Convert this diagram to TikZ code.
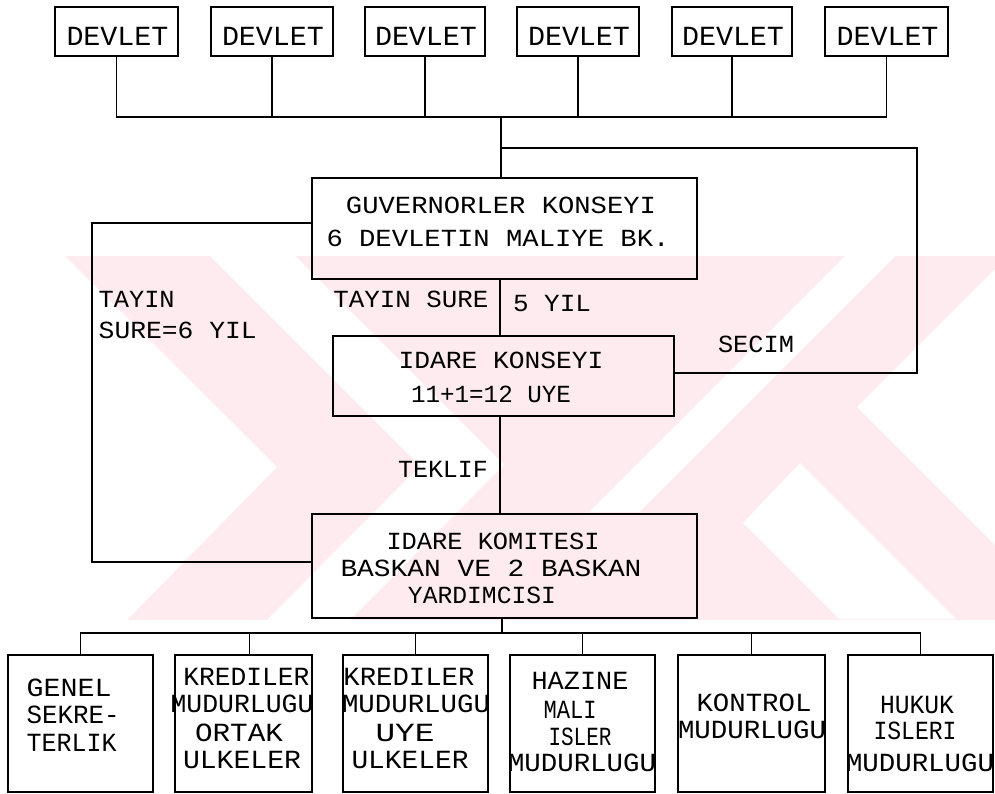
\documentclass[tikz,border=0pt]{standalone}
\usepackage{fontspec}
\setmainfont{Liberation Mono}
\definecolor{wm}{RGB}{253,235,239}
\newcommand\wt[2]{\resizebox{#1pt}{\height}{#2}}
\begin{document}
\begin{tikzpicture}[x=1pt,y=-1pt,
  box/.style={draw,line width=1.3pt,inner sep=0pt},
  lbl/.style={inner sep=0pt},
  ln/.style={line width=1.3pt},
  fa/.style={font=\fontsize{27.7}{27.7}\selectfont},
  fb/.style={font=\fontsize{24.6}{24.6}\selectfont},
  fc/.style={font=\fontsize{26.2}{26.2}\selectfont}]
\useasboundingbox (0,0) rectangle (995,794);
% watermark
\fill[wm] (65,256) rectangle (995,620);
\fill[white] (65,256) -- (277,467) -- (127,620) -- (65,620) -- cycle;
\fill[white] (210,256) -- (295,256) -- (504,465) -- (350,620) -- (267,620) -- (420,466) -- cycle;
\fill[white] (845,256) -- (895,256) -- (639,512) -- (589,512) -- cycle;
\fill[white] (800,463) -- (956,619) -- (839,619) -- (743,523) -- cycle;
\fill[white] (857,407) -- (995,269) -- (995,545) -- cycle;
% top row
\foreach \i/\x/\w in {1/116.5/123, 2/272/122, 3/425/120, 4/578/122, 5/732/120, 6/886.5/123} {
  \node[box, minimum width=\w, minimum height=49] (d\i) at (\x,31.5) {};
  \node[lbl, fa] (dt\i) at (\x+1,36) {\wt{102}{DEVLET}};
}
\coordinate (bus) at (0,117);
\coordinate (j) at (501,117);
\draw[ln] (d1.south) -- (d1.south |- bus) -- (d6.south |- bus) -- (d6.south);
\foreach \i in {2,3,4,5} \draw[ln] (d\i.south) -- (d\i.south |- bus);
% main boxes
\node[box, minimum width=385, minimum height=101] (gk) at (504.5,228.5) {};
\node[lbl, fb] (gt1) at (501,205) {\wt{310}{GUVERNORLER KONSEYI}};
\node[lbl, fb] (gt2) at (498,238) {\wt{343}{6 DEVLETIN MALIYE BK.}};
\node[box, minimum width=341, minimum height=80] (ik) at (503.5,376) {};
\node[lbl, fb] (it1) at (501,360) {\wt{205}{IDARE KONSEYI}};
\node[lbl, fb] (it2) at (491,394) {\wt{160}{11+1=12 UYE}};
\node[box, minimum width=385, minimum height=104] (kk) at (504.5,566) {};
\node[lbl, fb] (kt1) at (493,541) {\wt{213}{IDARE KOMITESI}};
\node[lbl, fb] (kt2) at (491,568) {\wt{301}{BASKAN VE 2 BASKAN}};
\node[lbl, fb] (kt3) at (482,595) {\wt{148}{YARDIMCISI}};
% labels
\node[lbl, fb, anchor=west] (la1) at (98.5,299) {\wt{76}{TAYIN}};
\node[lbl, fb, anchor=west] (la2) at (98.5,330) {\wt{158}{SURE=6 YIL}};
\node[lbl, fb] (la3) at (411,299) {\wt{155}{TAYIN SURE}};
\node[lbl, fb] (la4) at (552,304) {\wt{78}{5 YIL}};
\node[lbl, fb] (la5) at (756,344) {\wt{76}{SECIM}};
\node[lbl, fb] (la6) at (443,469) {\wt{90}{TEKLIF}};
% connectors
\draw[ln] (j) -- (j |- gk.north);
\coordinate (s1) at (501,148);
\coordinate (s2) at (917,373);
\draw[ln] (s1) -| (s2) -- (s2 -| ik.east);
\coordinate (l1) at (92,223);
\coordinate (l2) at (92,562);
\draw[ln] (l1 -| gk.west) -- (l1) -- (l2) -- (l2 -| kk.west);
\coordinate (c) at (500,0);
\draw[ln] (c |- gk.south) -- (c |- ik.north);
\draw[ln] (c |- ik.south) -- (c |- kk.north);
% bottom boxes
\foreach \i/\x/\w in {1/80.5/145, 2/243.5/137, 3/415.5/145, 4/582.5/145, 5/751.5/147, 6/920.5/145} {
  \node[box, minimum width=\w, minimum height=137] (b\i) at (\x,723.5) {};
}
\coordinate (bus2) at (0,633);
\coordinate (c2) at (502,0);
\draw[ln] (c2 |- kk.south) -- (c2 |- bus2);
\draw[ln] (b1.north) -- (b1.north |- bus2) -- (b6.north |- bus2) -- (b6.north);
\draw[ln] ([xshift=6]b2.north) -- ([xshift=6]b2.north |- bus2);
\foreach \i in {3,4,5} \draw[ln] (b\i.north) -- (b\i.north |- bus2);
% bottom texts
\node[lbl, fc, anchor=west] (g1) at (26.5,688) {\wt{85}{GENEL}};
\node[lbl, fc, anchor=west] (g2) at (26.5,715) {\wt{93}{SEKRE-}};
\node[lbl, fc, anchor=west] (g3) at (26.5,743) {\wt{90}{TERLIK}};
\node[lbl, fc] (k1) at (246.5,677) {\wt{126}{KREDILER}};
\node[lbl, fc] (k2) at (242,704) {\wt{143}{MUDURLUGU}};
\node[lbl, fc] (k3) at (239,733) {\wt{88}{ORTAK}};
\node[lbl, fc] (k4) at (242,760) {\wt{118}{ULKELER}};
\node[lbl, fc] (u1) at (409,677) {\wt{131}{KREDILER}};
\node[lbl, fc] (u2) at (416,704) {\wt{148}{MUDURLUGU}};
\node[lbl, fc] (u3) at (405,733) {\wt{59}{UYE}};
\node[lbl, fc] (u4) at (410,760) {\wt{117}{ULKELER}};
\node[lbl, fc] (h1) at (580,681) {\wt{97}{HAZINE}};
\node[lbl, fc] (h2) at (570,710) {\wt{53}{MALI}};
\node[lbl, fc] (h3) at (580,737) {\wt{63}{ISLER}};
\node[lbl, fc] (h4) at (582,763) {\wt{148}{MUDURLUGU}};
\node[lbl, fc] (n1) at (754,703) {\wt{115}{KONTROL}};
\node[lbl, fc] (n2) at (752,730) {\wt{148}{MUDURLUGU}};
\node[lbl, fc] (p1) at (917,705) {\wt{74}{HUKUK}};
\node[lbl, fc] (p2) at (915,731) {\wt{83}{ISLERI}};
\node[lbl, fc] (p3) at (920,763) {\wt{148}{MUDURLUGU}};
\end{tikzpicture}
\end{document}
